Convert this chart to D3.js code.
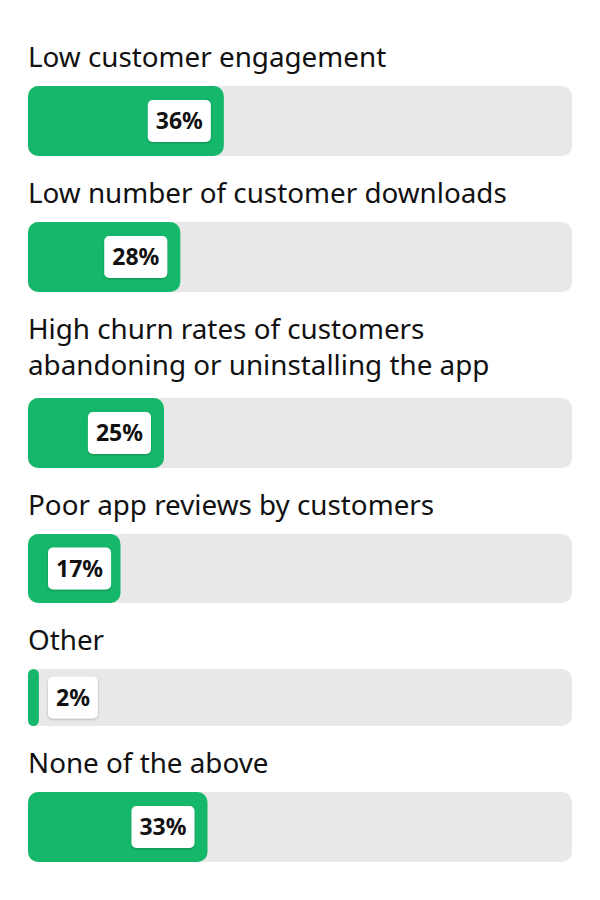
<!DOCTYPE html>
<html>
<head>
<meta charset="utf-8">
<script src="https://cdn.jsdelivr.net/npm/d3@7"></script>
<style>
  body { margin: 0; background: #fff; }
  svg { display: block; }
</style>
</head>
<body>
<script>
// data
var categories = [
    ["Low customer engagement"],
    ["Low number of customer downloads"],
    ["High churn rates of customers", "abandoning or uninstalling the app"],
    ["Poor app reviews by customers"],
    ["Other"],
    ["None of the above"]
];
var values = [36, 28, 25, 17, 2, 33];

// layout
var width = 600, height = 900;
var left = 28, right = 572;
var barHeights = [70, 70, 70, 69, 57, 70];
var lineHeight = 36;
var fontFamily = "'Noto Sans', 'Open Sans', sans-serif";
var green = "#15b86a";
var trackColor = "#e8e8e8";

var svg = d3.select("body").append("svg")
    .attr("width", width)
    .attr("height", height);

var defs = svg.append("defs");
var shadow = defs.append("filter").attr("id", "shadow")
    .attr("x", "-20%").attr("y", "-20%").attr("width", "140%").attr("height", "140%");
shadow.append("feDropShadow")
    .attr("dx", 0).attr("dy", 1).attr("stdDeviation", 1.2)
    .attr("flood-color", "#000").attr("flood-opacity", 0.25);

var x = d3.scaleLinear().domain([0, 100]).range([left, right]);

// compute row positions
var rows = [];
var baseline = 67;
for (var i = 0; i < categories.length; i++) {
    var lines = categories[i];
    var firstBase = baseline;
    var lastBase = baseline + (lines.length - 1) * lineHeight;
    var barTop = lastBase + 19 + (lines.length > 1 ? 4 : 0);
    rows.push({lines: lines, value: values[i], base: firstBase, barTop: barTop, barH: barHeights[i]});
    baseline = barTop + barHeights[i] + 47;
}

var row = svg.selectAll("g.row")
    .data(rows)
    .enter().append("g")
    .attr("class", "row");

row.each(function (d) {
    var g = d3.select(this);
    g.selectAll("text.cat")
        .data(d.lines)
        .enter().append("text")
        .attr("class", "cat")
        .attr("x", left)
        .attr("y", function (l, j) { return d.base + j * lineHeight; })
        .style("font-family", fontFamily)
        .style("font-size", "27.8px")
        .style("fill", "#111")
        .text(function (l) { return l; });
});

row.append("rect")
    .attr("x", x(0))
    .attr("y", function (d) { return d.barTop; })
    .attr("width", x(100) - x(0))
    .attr("height", function (d) { return d.barH; })
    .attr("rx", 10)
    .attr("fill", trackColor);

row.append("rect")
    .attr("x", x(0))
    .attr("y", function (d) { return d.barTop; })
    .attr("width", function (d) { return x(d.value) - x(0); })
    .attr("height", function (d) { return d.barH; })
    .attr("rx", function (d) { return Math.min(10, (x(d.value) - x(0)) / 2); })
    .attr("fill", green);

// value badges
row.each(function (d) {
    var g = d3.select(this);
    var badge = g.append("g");
    var box = badge.append("rect").attr("fill", "#fff").attr("rx", 5)
        .attr("filter", "url(#shadow)");
    var t = badge.append("text")
        .style("font-family", fontFamily)
        .style("font-size", "23px")
        .style("font-weight", "bold")
        .style("fill", "#111")
        .attr("text-anchor", "middle")
        .text(d.value + "%");
    var tw = t.node().getComputedTextLength();
    var bw = tw + 16, bh = 42;
    var end = x(d.value);
    var bx = Math.max(end - 13 - bw, left + 20);
    var by = d.barTop + (d.barH - bh) / 2;
    box.attr("x", bx).attr("y", by).attr("width", bw).attr("height", bh);
    t.attr("x", bx + bw / 2).attr("y", by + bh / 2 + 8);
});
</script>
</body>
</html>
